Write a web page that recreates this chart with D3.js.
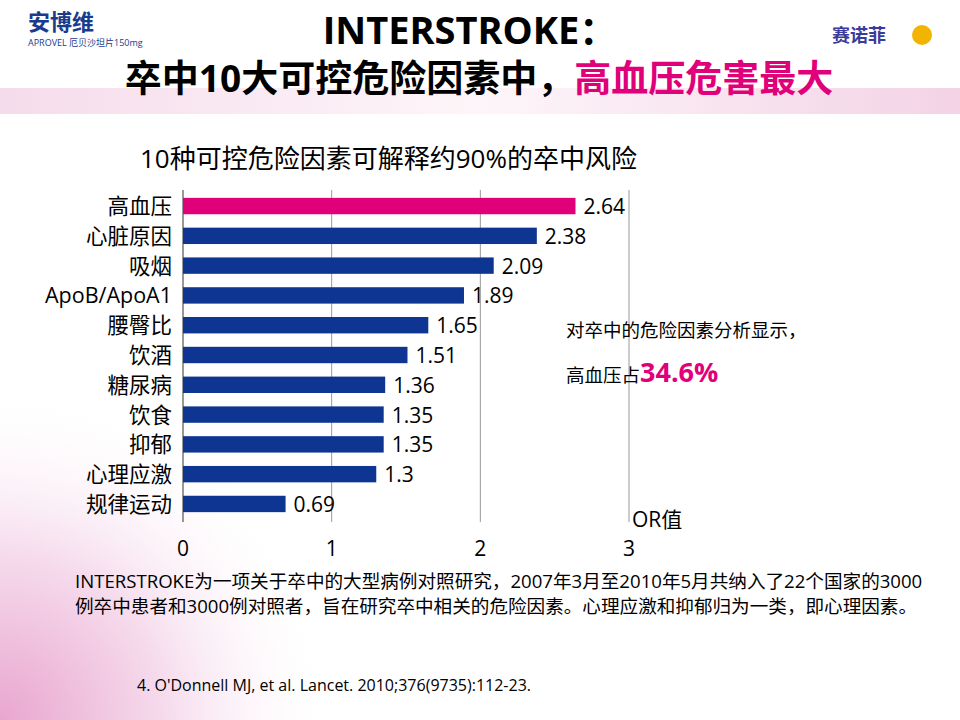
<!DOCTYPE html>
<html><head><meta charset="utf-8">
<script src="https://cdn.jsdelivr.net/npm/d3@7/dist/d3.min.js"></script>
<style>body{margin:0}svg{display:block}</style></head>
<body><svg id="c" width="960" height="720"></svg>
<script>
const categories=["高血压","心脏原因","吸烟","ApoB/ApoA1","腰臀比","饮酒","糖尿病","饮食","抑郁","心理应激","规律运动"];
const values=[2.64,2.38,2.09,1.89,1.65,1.51,1.36,1.35,1.35,1.3,0.69];
const valueLabels=["2.64","2.38","2.09","1.89","1.65","1.51","1.36","1.35","1.35","1.3","0.69"];
const ticks=[0,1,2,3];
const F="'Open Sans','Noto Sans CJK SC',sans-serif";
const svg=d3.select("#c");
const defs=svg.append("defs");
const g1=defs.append("radialGradient").attr("id","bl").attr("cx","0").attr("cy","1").attr("r","0.8");
g1.append("stop").attr("offset","0").attr("stop-color","#e9a6cf");
g1.append("stop").attr("offset","0.5").attr("stop-color","#f6dced");
g1.append("stop").attr("offset","1").attr("stop-color","#fff").attr("stop-opacity",0);
const g2=defs.append("linearGradient").attr("id","band").attr("x1",0).attr("x2",1);
g2.append("stop").attr("offset","0").attr("stop-color","#f3d3e6");
g2.append("stop").attr("offset","0.5").attr("stop-color","#fdf3f8");
g2.append("stop").attr("offset","1").attr("stop-color","#f0c8df");
svg.append("rect").attr("width",960).attr("height",720).attr("fill","#fff");
svg.append("rect").attr("x",0).attr("y",300).attr("width",420).attr("height",420).attr("fill","url(#bl)");
svg.append("rect").attr("x",0).attr("y",88).attr("width",960).attr("height",26).attr("fill","url(#band)").attr("opacity",0.8);
svg.append("text").attr("x",28).attr("y",30).attr("font-family",F).attr("font-weight","bold").attr("font-size",22).attr("fill","#1a3a8c").text("安博维");
svg.append("text").attr("x",28).attr("y",46).attr("font-family",F).attr("font-size",9).attr("fill","#1a3a8c").text("APROVEL 厄贝沙坦片150mg");
svg.append("text").attr("x",832).attr("y",42).attr("font-family",F).attr("font-weight","bold").attr("font-size",18).attr("fill","#3b3b9a").text("赛诺菲");
svg.append("circle").attr("cx",922).attr("cy",35).attr("r",10).attr("fill","#f2b400");
svg.append("text").attr("x",470).attr("y",44).attr("text-anchor","middle").attr("font-family",F).attr("font-weight","bold").attr("font-size",38).text("INTERSTROKE：");
const t2=svg.append("text").attr("x",479).attr("y",92).attr("text-anchor","middle").attr("font-family",F).attr("font-weight","bold").attr("font-size",37);
t2.append("tspan").text("卒中10大可控危险因素中，");
t2.append("tspan").attr("fill","#e0007a").text("高血压危害最大");
svg.append("text").attr("x",140).attr("y",168).attr("font-family",F).attr("font-size",26).text("10种可控危险因素可解释约90%的卒中风险");
const x=d3.scaleLinear().domain([0,3]).range([183,629]);
const y=d3.scaleBand().domain(categories).range([191,519]).paddingInner(0.45).paddingOuter(0.23);
svg.append("g").selectAll("line").data(ticks.slice(1)).join("line").attr("x1",d=>x(d)).attr("x2",d=>x(d)).attr("y1",190).attr("y2",522).attr("stroke","#999").attr("stroke-width",1);
svg.append("line").attr("x1",x(0)).attr("x2",x(0)).attr("y1",190).attr("y2",522).attr("stroke","#333");
svg.append("g").selectAll("rect").data(values).join("rect").attr("x",x(0)).attr("y",(d,i)=>y(categories[i])).attr("width",d=>x(d)-x(0)).attr("height",y.bandwidth()).attr("fill",(d,i)=>i==0?"#e0007a":"#0d3591");
svg.append("g").selectAll("text").data(values).join("text").attr("x",d=>x(d)+8).attr("y",(d,i)=>y(categories[i])+y.bandwidth()/2+8).attr("font-family",F).attr("font-size",21).text((d,i)=>valueLabels[i]);
svg.append("g").selectAll("text").data(categories).join("text").attr("x",172).attr("y",d=>y(d)+y.bandwidth()/2+8).attr("text-anchor","end").attr("font-family",F).attr("font-size",21.5).text(d=>d);
svg.append("g").selectAll("text").data(ticks).join("text").attr("x",d=>x(d)).attr("y",556).attr("text-anchor","middle").attr("font-family",F).attr("font-size",21).text(d=>d);
svg.append("text").attr("x",632).attr("y",527).attr("font-family",F).attr("font-size",21).text("OR值");
svg.append("text").attr("x",566).attr("y",337).attr("font-family",F).attr("font-size",18.5).text("对卒中的危险因素分析显示，");
const t3=svg.append("text").attr("x",566).attr("y",382).attr("font-family",F).attr("font-size",18.5);
t3.append("tspan").text("高血压占");
t3.append("tspan").attr("fill","#e0007a").attr("font-weight","bold").attr("font-size",27).text("34.6%");
svg.append("text").attr("x",75).attr("y",588).attr("font-family",F).attr("font-size",18.6).text("INTERSTROKE为一项关于卒中的大型病例对照研究，2007年3月至2010年5月共纳入了22个国家的3000");
svg.append("text").attr("x",75).attr("y",613).attr("font-family",F).attr("font-size",18.6).text("例卒中患者和3000例对照者，旨在研究卒中相关的危险因素。心理应激和抑郁归为一类，即心理因素。");
svg.append("text").attr("x",137).attr("y",691).attr("font-family",F).attr("font-size",16).text("4. O'Donnell MJ, et al. Lancet. 2010;376(9735):112-23.");
</script></body></html>
